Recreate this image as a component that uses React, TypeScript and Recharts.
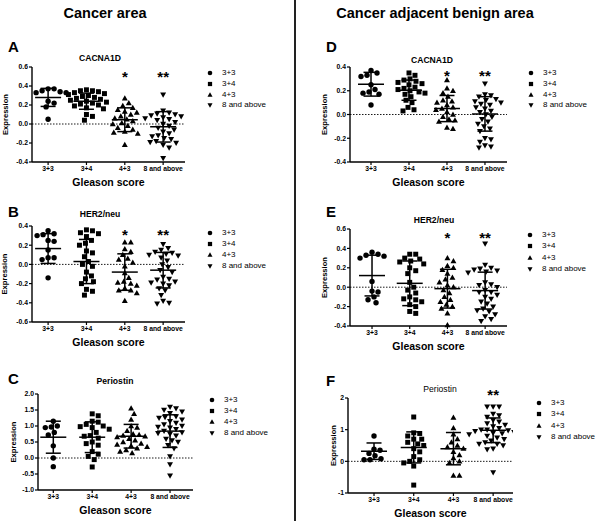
import React from "react";
import {
  ScatterChart,
  Scatter,
  XAxis,
  YAxis,
  ReferenceLine,
  ReferenceDot,
  ErrorBar,
} from "recharts";

const FONT = '"Liberation Sans", Arial, Helvetica, sans-serif';

const categories = ["3+3", "3+4", "4+3", "8 and above"];

// A: CACNA1D, cancer area
const a33 = [0.37, 0.37, 0.35, 0.34, 0.33, 0.33, 0.24, 0.22, 0.18, 0.05];
const a34 = [0.36, 0.35, 0.35, 0.34, 0.33, 0.32, 0.31, 0.3, 0.29, 0.28, 0.27, 0.26, 0.25, 0.24, 0.23, 0.22, 0.21, 0.2, 0.19, 0.17, 0.16, 0.1, 0.08, 0.04];
const a43 = [0.27, 0.22, 0.19, 0.17, 0.15, 0.13, 0.12, 0.1, 0.08, 0.06, 0.05, 0.03, 0.01, 0.0, -0.02, -0.04, -0.06, -0.08, -0.09, -0.1, -0.22];
const a8 = [0.31, 0.14, 0.12, 0.11, 0.1, 0.09, 0.08, 0.07, 0.06, 0.05, 0.04, 0.02, 0.0, -0.02, -0.04, -0.06, -0.08, -0.1, -0.12, -0.13, -0.15, -0.16, -0.18, -0.19, -0.2, -0.22, -0.25, -0.36];
const aMean = [0.28, 0.24, 0.045, -0.03];
const aSd = [0.095, 0.085, 0.125, 0.16];

// B: HER2/neu, cancer area
const b33 = [0.35, 0.32, 0.31, 0.3, 0.25, 0.24, 0.15, 0.07, 0.07, 0.05, -0.14];
const b34 = [0.36, 0.35, 0.33, 0.32, 0.29, 0.25, 0.22, 0.2, 0.14, 0.12, 0.08, 0.03, 0.0, -0.02, -0.08, -0.12, -0.15, -0.18, -0.2, -0.26, -0.28, -0.32];
const b43 = [0.23, 0.23, 0.16, 0.13, 0.1, 0.06, 0.05, 0.02, -0.02, -0.09, -0.14, -0.18, -0.19, -0.2, -0.22, -0.25, -0.27, -0.27, -0.3, -0.38];
const b8 = [0.21, 0.17, 0.15, 0.13, 0.12, 0.11, 0.1, 0.09, 0.07, 0.04, 0.0, -0.03, -0.06, -0.08, -0.13, -0.15, -0.16, -0.18, -0.19, -0.2, -0.22, -0.25, -0.27, -0.32, -0.38, -0.4, -0.41];
const bMean = [0.165, 0.03, -0.08, -0.06];
const bSd = [0.155, 0.23, 0.19, 0.185];

// C: Periostin, cancer area
const c33 = [1.15, 1.0, 0.97, 0.95, 0.8, 0.72, 0.38, 0.0, -0.27];
const c34 = [1.38, 1.32, 1.15, 1.12, 1.05, 1.0, 0.98, 0.95, 0.9, 0.8, 0.7, 0.68, 0.62, 0.5, 0.45, 0.4, 0.2, 0.12, 0.05, -0.05, -0.28];
const c43 = [1.55, 1.38, 1.2, 1.0, 0.95, 0.85, 0.75, 0.72, 0.7, 0.68, 0.65, 0.6, 0.55, 0.5, 0.45, 0.42, 0.38, 0.35, 0.3, 0.25, 0.2, 0.15];
const c8 = [1.6, 1.55, 1.5, 1.45, 1.4, 1.3, 1.28, 1.25, 1.2, 1.15, 1.1, 1.05, 1.0, 0.97, 0.95, 0.9, 0.85, 0.8, 0.78, 0.75, 0.7, 0.6, 0.55, 0.5, 0.4, 0.3, 0.05, -0.2, -0.55];
const cMean = [0.65, 0.65, 0.68, 0.84];
const cSd = [0.5, 0.48, 0.37, 0.51];

// D: CACNA1D, adjacent benign
const d33 = [0.37, 0.35, 0.33, 0.32, 0.25, 0.21, 0.19, 0.18, 0.17, 0.08];
const d34 = [0.35, 0.33, 0.3, 0.29, 0.28, 0.27, 0.26, 0.25, 0.23, 0.22, 0.21, 0.2, 0.19, 0.18, 0.17, 0.15, 0.12, 0.1, 0.06, 0.04, 0.03];
const d43 = [0.29, 0.22, 0.2, 0.18, 0.15, 0.12, 0.11, 0.1, 0.08, 0.06, 0.05, 0.04, 0.02, 0.0, -0.02, -0.04, -0.05, -0.06, -0.11, -0.12];
const d8 = [0.26, 0.17, 0.16, 0.15, 0.13, 0.12, 0.11, 0.1, 0.09, 0.08, 0.06, 0.05, 0.03, 0.02, 0.0, -0.02, -0.04, -0.06, -0.08, -0.1, -0.12, -0.14, -0.2, -0.21, -0.23, -0.26, -0.27, -0.28];
const dMean = [0.255, 0.205, 0.05, 0.005];
const dSd = [0.1, 0.085, 0.11, 0.145];

// E: HER2/neu, adjacent benign
const e33 = [0.36, 0.34, 0.33, 0.32, 0.3, 0.06, -0.04, -0.05, -0.1, -0.13, -0.16];
const e34 = [0.34, 0.34, 0.3, 0.29, 0.27, 0.26, 0.24, 0.2, 0.17, 0.14, 0.05, 0.0, -0.03, -0.06, -0.1, -0.12, -0.13, -0.15, -0.18, -0.2, -0.25, -0.27];
const e43 = [0.3, 0.27, 0.22, 0.2, 0.18, 0.14, 0.1, 0.08, 0.05, 0.02, 0.0, -0.03, -0.06, -0.1, -0.13, -0.15, -0.18, -0.2, -0.22, -0.27, -0.39];
const e8 = [0.45, 0.23, 0.2, 0.19, 0.18, 0.17, 0.16, 0.15, 0.05, 0.03, 0.02, 0.0, -0.03, -0.05, -0.05, -0.08, -0.1, -0.12, -0.15, -0.17, -0.2, -0.22, -0.24, -0.25, -0.28, -0.3, -0.33, -0.35];
const eMean = [0.12, 0.04, -0.015, -0.035];
const eSd = [0.21, 0.23, 0.2, 0.19];

// F: Periostin, adjacent benign
const f33 = [0.8, 0.38, 0.35, 0.25, 0.18, 0.08, 0.05, 0.05];
const f34 = [1.4, 0.9, 0.88, 0.8, 0.7, 0.7, 0.6, 0.55, 0.5, 0.4, 0.3, 0.15, 0.05, 0.0, -0.05, -0.15, -0.75];
const f43 = [1.38, 1.05, 0.85, 0.7, 0.6, 0.5, 0.45, 0.4, 0.3, 0.2, 0.1, 0.0, -0.05, -0.45, -0.45];
const f8 = [1.73, 1.73, 1.73, 1.5, 1.45, 1.4, 1.3, 1.25, 1.2, 1.15, 1.1, 1.05, 1.0, 1.0, 0.98, 0.95, 0.92, 0.9, 0.88, 0.85, 0.8, 0.75, 0.7, 0.65, 0.6, 0.55, 0.55, 0.5, 0.4, 0.38, -0.35];
const fMean = [0.32, 0.44, 0.4, 0.98];
const fSd = [0.26, 0.49, 0.51, 0.39];

const sigOneTwo = ["", "", "*", "**"];
const sigTwoOnly = ["", "", "", "**"];
const noSig = ["", "", "", ""];

const ticks02a = [-0.4, -0.2, 0, 0.2, 0.4, 0.6];
const ticks02b = [-0.6, -0.4, -0.2, 0, 0.2, 0.4];
const ticks02d = [-0.4, -0.2, 0, 0.2, 0.4];
const ticksPeriC = [-1, -0.5, 0, 0.5, 1, 1.5, 2];
const ticksPeriF = [-1, 0, 1, 2];

type Panel = {
  letter: string;
  title: string;
  titleBold: boolean;
  letterPos: [number, number];
  titlePos: [number, number];
  groups: number[][];
  mean: number[];
  sd: number[];
  sig: string[];
  sigY: number;
  yDomain: [number, number];
  yTicks: number[];
  yDigits: number;
  left: number;
  top: number;
  bottom: number;
  right: number;
  xDomain: [number, number];
  yLabelX: number;
  gleasonY: number;
  legendX: number;
  legendY: number;
  legendGap: number;
};

const panels: Panel[] = [
  {
    letter: "A", title: "CACNA1D", titleBold: true, letterPos: [8, 47], titlePos: [100, 58],
    groups: [a33, a34, a43, a8], mean: aMean, sd: aSd, sig: sigOneTwo, sigY: 0.53,
    yDomain: [-0.4, 0.6], yTicks: ticks02a, yDigits: 1,
    left: 32, top: 67, bottom: 162, right: 185, xDomain: [0.58, 4.57],
    yLabelX: 5, gleasonY: 182, legendX: 210, legendY: 73, legendGap: 10.8,
  },
  {
    letter: "B", title: "HER2/neu", titleBold: true, letterPos: [8, 212], titlePos: [100, 214],
    groups: [b33, b34, b43, b8], mean: bMean, sd: bSd, sig: sigOneTwo, sigY: 0.34,
    yDomain: [-0.6, 0.4], yTicks: ticks02b, yDigits: 1,
    left: 32, top: 226, bottom: 322, right: 185, xDomain: [0.58, 4.57],
    yLabelX: 4, gleasonY: 342, legendX: 210, legendY: 233, legendGap: 11,
  },
  {
    letter: "C", title: "Periostin", titleBold: true, letterPos: [8, 379], titlePos: [115, 381],
    groups: [c33, c34, c43, c8], mean: cMean, sd: cSd, sig: noSig, sigY: 0,
    yDomain: [-1, 2], yTicks: ticksPeriC, yDigits: 1,
    left: 38, top: 394, bottom: 490, right: 193, xDomain: [0.607, 4.59],
    yLabelX: 13, gleasonY: 510, legendX: 212, legendY: 400, legendGap: 11,
  },
  {
    letter: "D", title: "CACNA1D", titleBold: true, letterPos: [326, 47], titlePos: [432, 60],
    groups: [d33, d34, d43, d8], mean: dMean, sd: dSd, sig: sigOneTwo, sigY: 0.35,
    yDomain: [-0.4, 0.4], yTicks: ticks02d, yDigits: 1,
    left: 350, top: 67, bottom: 162, right: 507, xDomain: [0.447, 4.58],
    yLabelX: 324, gleasonY: 182, legendX: 531, legendY: 73, legendGap: 10.8,
  },
  {
    letter: "E", title: "HER2/neu", titleBold: true, letterPos: [326, 212], titlePos: [434, 220],
    groups: [e33, e34, e43, e8], mean: eMean, sd: eSd, sig: sigOneTwo, sigY: 0.54,
    yDomain: [-0.4, 0.6], yTicks: ticks02a, yDigits: 1,
    left: 350, top: 229, bottom: 326, right: 507, xDomain: [0.416, 4.58],
    yLabelX: 324, gleasonY: 346, legendX: 530, legendY: 235, legendGap: 11.3,
  },
  {
    letter: "F", title: "Periostin", titleBold: false, letterPos: [326, 381], titlePos: [440, 389],
    groups: [f33, f34, f43, f8], mean: fMean, sd: fSd, sig: sigTwoOnly, sigY: 2.2,
    yDomain: [-1, 2], yTicks: ticksPeriF, yDigits: 0,
    left: 348, top: 398, bottom: 493, right: 513, xDomain: [0.345, 4.5],
    yLabelX: 333, gleasonY: 513, legendX: 539, legendY: 403, legendGap: 11.3,
  },
];

const YW = 32;
const MT = 30;
const XH = 34;
const MR = 4;
const DOT = 5.4;
const GAP = 6;

// simple beeswarm: horizontal pixel offsets so markers don't overlap
function swarm(values: number[], pxPerY: number): number[] {
  const placed: [number, number][] = [];
  return values.map((v) => {
    const py = v * pxPerY;
    for (let s = 0; s < 60; s++) {
      const dx = s === 0 ? 0 : (s % 2 ? 1 : -1) * Math.ceil(s / 2);
      const ok = placed.every(
        ([qx, qy]) => (qx - dx) ** 2 + (qy - py) ** 2 >= GAP * GAP
      );
      if (ok) {
        placed.push([dx, py]);
        return dx;
      }
    }
    placed.push([0, py]);
    return 0;
  });
}

function Marker({ kind, cx, cy, size }: { kind: number; cx: number; cy: number; size: number }) {
  const r = size / 2;
  if (kind === 0) return <circle cx={cx} cy={cy} r={r} fill="#000" />;
  if (kind === 1)
    return <rect x={cx - r * 0.92} y={cy - r * 0.92} width={r * 1.84} height={r * 1.84} fill="#000" />;
  if (kind === 2)
    return (
      <polygon
        points={`${cx},${cy - r * 1.15} ${cx - r * 1.1},${cy + r * 0.8} ${cx + r * 1.1},${cy + r * 0.8}`}
        fill="#000"
      />
    );
  return (
    <polygon
      points={`${cx},${cy + r * 1.15} ${cx - r * 1.1},${cy - r * 0.8} ${cx + r * 1.1},${cy - r * 0.8}`}
      fill="#000"
    />
  );
}

const tickStyle = { fontSize: 6.8, fontWeight: 700, fill: "#000", fontFamily: FONT };

function PanelChart({ p }: { p: Panel }) {
  const plotW = p.right - p.left;
  const plotH = p.bottom - p.top;
  const pxPerY = plotH / (p.yDomain[1] - p.yDomain[0]);
  const pxPerX = plotW / (p.xDomain[1] - p.xDomain[0]);
  const chartLeft = p.left - YW;
  const chartTop = p.top - MT;
  const width = YW + plotW + MR;
  const height = MT + plotH + XH;

  const series = p.groups.map((vals, g) => {
    const offs = swarm(vals, pxPerY);
    return vals.map((v, i) => ({ x: g + 1 + offs[i] / pxPerX, y: v }));
  });
  const meanData = p.mean.map((m, g) => ({ x: g + 1, y: m, err: p.sd[g] }));

  return (
    <div style={{ position: "absolute", left: chartLeft, top: chartTop }}>
      <ScatterChart
        width={width}
        height={height}
        margin={{ top: MT, right: MR, bottom: 0, left: 0 }}
      >
        <XAxis
          type="number"
          dataKey="x"
          domain={p.xDomain}
          allowDataOverflow
          ticks={[1, 2, 3, 4]}
          interval={0}
          tickFormatter={(v: number) => categories[Math.round(v) - 1]}
          tick={tickStyle}
          tickSize={3}
          tickMargin={1}
          height={XH}
          axisLine={{ stroke: "#000", strokeWidth: 1.4 }}
          tickLine={{ stroke: "#000", strokeWidth: 1.2 }}
          label={{
            value: "Gleason score",
            position: "insideBottom",
            offset: p.bottom + XH - (p.gleasonY + 4),
            style: { fontSize: 10.5, fontWeight: 700, fill: "#000", fontFamily: FONT },
          }}
        />
        <YAxis
          type="number"
          dataKey="y"
          domain={p.yDomain}
          ticks={p.yTicks}
          interval={0}
          tickFormatter={(v: number) => v.toFixed(p.yDigits)}
          tick={tickStyle}
          tickSize={3}
          tickMargin={1}
          width={YW}
          axisLine={{ stroke: "#000", strokeWidth: 1.4 }}
          tickLine={{ stroke: "#000", strokeWidth: 1.2 }}
          label={{
            value: "Expression",
            angle: -90,
            position: "insideLeft",
            offset: p.yLabelX - chartLeft,
            style: { textAnchor: "middle", fontSize: 7.6, fontWeight: 700, fill: "#000", fontFamily: FONT },
          }}
        />
        <ReferenceLine y={0} stroke="#000" strokeWidth={0.9} strokeDasharray="1.5 1.5" />
        {series.map((data, g) => (
          <Scatter
            key={categories[g]}
            name={categories[g]}
            data={data}
            isAnimationActive={false}
            shape={(s: any) => <Marker kind={g} cx={s.cx} cy={s.cy} size={DOT} />}
          />
        ))}
        <Scatter
          name="mean"
          data={meanData}
          isAnimationActive={false}
          shape={(s: any) => (
            <line x1={s.cx - 13} x2={s.cx + 13} y1={s.cy} y2={s.cy} stroke="#000" strokeWidth={1.5} />
          )}
        >
          <ErrorBar dataKey="err" direction="y" width={7.5} stroke="#000" strokeWidth={1.5} />
        </Scatter>
        {p.sig.map((t, g) =>
          t ? (
            <ReferenceDot
              key={"sig" + g}
              x={g + 1}
              y={p.sigY}
              r={0}
              ifOverflow="visible"
              shape={(s: any) => (
                <text
                  x={s.cx}
                  y={s.cy + 8}
                  textAnchor="middle"
                  fontSize={15}
                  fontWeight={700}
                  fontFamily={FONT}
                  fill="#000"
                >
                  {t}
                </text>
              )}
            />
          ) : null
        )}
      </ScatterChart>
    </div>
  );
}

function Legend({ p }: { p: Panel }) {
  return (
    <>
      {categories.map((c, g) => {
        const y = p.legendY + g * p.legendGap;
        return (
          <div key={c} style={{ position: "absolute", left: p.legendX - 4, top: y - 5, height: 10, display: "flex", alignItems: "center" }}>
            <svg width={8} height={10}>
              <Marker kind={g} cx={4} cy={5} size={4.6} />
            </svg>
            <span style={{ marginLeft: 8, fontSize: 8, lineHeight: "10px", fontFamily: FONT, color: "#000", whiteSpace: "nowrap" }}>
              {c}
            </span>
          </div>
        );
      })}
    </>
  );
}

export default function App() {
  return (
    <div
      style={{
        position: "absolute",
        left: 0,
        top: 0,
        width: 600,
        height: 521,
        background: "#fff",
        fontFamily: FONT,
        overflow: "hidden",
      }}
    >
      <div style={{ position: "absolute", left: 0, width: 210, top: 4, textAlign: "center", fontSize: 14.5, fontWeight: 700, lineHeight: "18px" }}>
        Cancer area
      </div>
      <div style={{ position: "absolute", left: 300, width: 270, top: 4, textAlign: "center", fontSize: 14.5, fontWeight: 700, lineHeight: "18px" }}>
        Cancer adjacent benign area
      </div>
      <div style={{ position: "absolute", left: 294, top: 0, width: 1.5, height: 521, background: "#222" }} />
      {panels.map((p) => (
        <React.Fragment key={p.letter}>
          <div style={{ position: "absolute", left: p.letterPos[0], top: p.letterPos[1] - 9, fontSize: 15, fontWeight: 700, lineHeight: "18px" }}>
            {p.letter}
          </div>
          <div style={{ position: "absolute", left: p.titlePos[0] - 60, width: 120, top: p.titlePos[1] - 6, textAlign: "center", fontSize: 8.6, fontWeight: p.titleBold ? 700 : 400, lineHeight: "12px" }}>
            {p.title}
          </div>
          <PanelChart p={p} />
          <Legend p={p} />
        </React.Fragment>
      ))}
    </div>
  );
}
